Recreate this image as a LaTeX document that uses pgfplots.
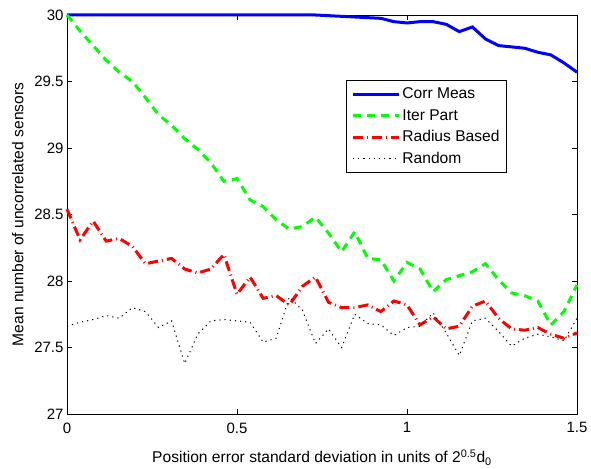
\documentclass[border=0pt]{standalone}
\usepackage{pgfplots}
\pgfplotsset{compat=1.18}
\usepackage{pgfplotstable}
\usepackage{fontspec}
\setmainfont{Liberation Sans}
\pgfplotstableread{
x corr iter radius random
0 30 30.00 28.54 27.66
0.03846 30 29.88 28.31 27.69
0.07692 30 29.77 28.45 27.71
0.11538 30 29.66 28.30 27.74
0.15385 30 29.57 28.32 27.72
0.19231 30 29.50 28.26 27.80
0.23077 30 29.38 28.13 27.77
0.26923 30 29.25 28.15 27.65
0.30769 30 29.17 28.17 27.70
0.34615 30 29.07 28.09 27.38
0.38462 30 28.99 28.06 27.60
0.42308 30 28.89 28.09 27.70
0.46154 30 28.75 28.20 27.71
0.5 30 28.77 27.90 27.70
0.53846 30 28.61 28.03 27.69
0.57692 30 28.56 27.87 27.54
0.61538 30 28.46 27.89 27.57
0.65385 30 28.39 27.82 27.88
0.69231 30 28.41 27.96 27.78
0.73077 30 28.48 28.03 27.53
0.76923 29.995 28.36 27.84 27.64
0.80769 29.99 28.22 27.80 27.50
0.84615 29.985 28.37 27.80 27.75
0.88462 29.98 28.17 27.82 27.68
0.92308 29.975 28.16 27.77 27.67
0.96154 29.95 28.00 27.85 27.59
1.0 29.94 28.14 27.82 27.65
1.03846 29.95 28.09 27.67 27.66
1.07692 29.95 27.92 27.73 27.76
1.11538 29.93 28.01 27.64 27.61
1.15385 29.875 28.04 27.66 27.44
1.19231 29.91 28.07 27.81 27.70
1.23077 29.82 28.13 27.85 27.72
1.26923 29.77 28.01 27.72 27.62
1.30769 29.76 27.91 27.64 27.51
1.34615 29.75 27.89 27.63 27.57
1.38462 29.72 27.85 27.65 27.60
1.42308 29.70 27.67 27.60 27.58
1.46154 29.64 27.77 27.57 27.55
1.5 29.57 27.97 27.61 27.72
}\data
\begin{document}
\begin{tikzpicture}
\path[use as bounding box] (0,0) rectangle (591pt,468pt);
\begin{axis}[
  at={(67pt,54pt)}, anchor=south west,
  scale only axis, width=510pt, height=399pt,
  xmin=0, xmax=1.5, ymin=27, ymax=30,
  xtick={0,0.5,1,1.5}, ytick={27,27.5,28,28.5,29,29.5,30},
  tick align=inside, major tick length=5pt,
  tick style={black, line width=0.7pt},
  axis line style={line width=0.9pt},
  /pgf/number format/assume math mode=true,
  ticklabel style={font=\fontsize{15}{17}\selectfont},
  xticklabel style={yshift=-5pt},
  xlabel={Position error standard deviation in units of 2\textsuperscript{0.5}d\textsubscript{0}},
  ylabel={Mean number of uncorrelated sensors},
  label style={font=\fontsize{15.6}{18}\selectfont},
  xlabel style={yshift=-10pt},
  ylabel style={yshift=4pt},
  clip=false,
  legend style={at={(0.547,0.837)}, anchor=north west, draw=black, line width=0.9pt,
    font=\fontsize{15.6}{18}\selectfont, row sep=5pt, inner xsep=5pt, inner ysep=5.5pt},
  legend cell align=left,
  legend image code/.code={\draw[#1] (0pt,0pt) -- (46pt,0pt);},
]
\addplot[blue, line width=3pt] table[x=x, y=corr] {\data};
\addlegendentry{Corr Meas}
\addplot[green, line width=3pt, dash pattern=on 8pt off 6pt] table[x=x, y=iter] {\data};
\addlegendentry{Iter Part}
\addplot[red, line width=3pt, dash pattern=on 10pt off 4pt on 1pt off 4pt] table[x=x, y=radius] {\data};
\addlegendentry{Radius Based}
\addplot[black, line width=1pt, dash pattern=on 1.2pt off 4pt] table[x=x, y=random] {\data};
\addlegendentry{Random}
\end{axis}
\end{tikzpicture}
\end{document}
